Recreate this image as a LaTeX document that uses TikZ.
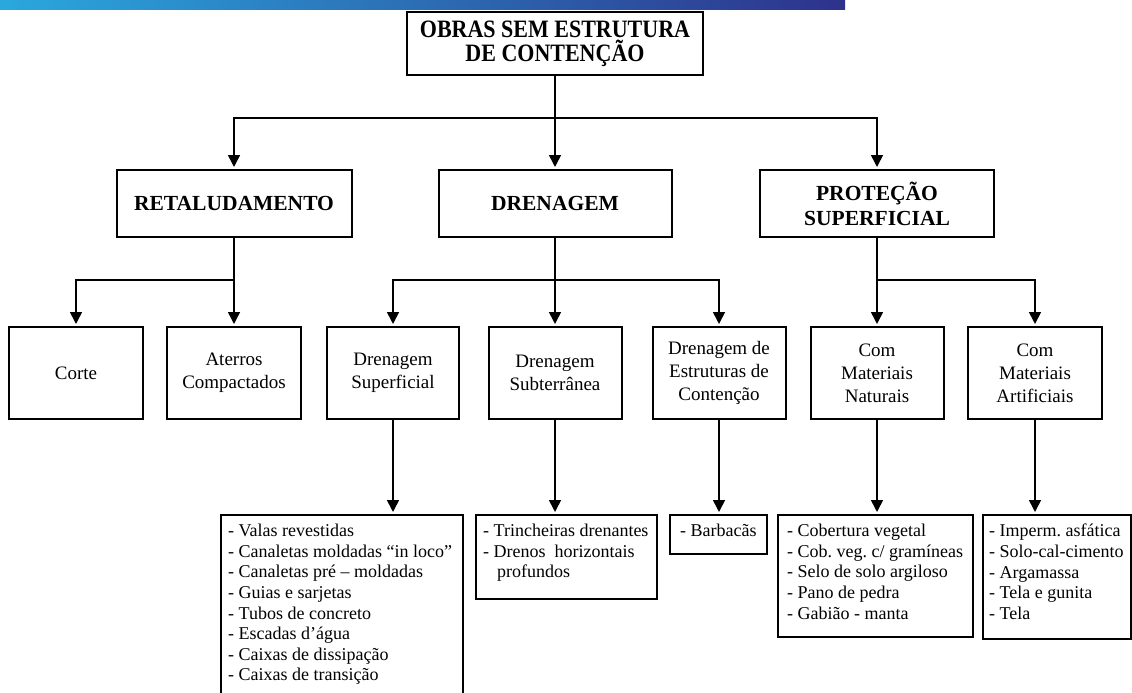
\documentclass[tikz,border=0pt]{standalone}
\usepackage{fontspec}
\setmainfont{Liberation Serif}
\usepackage{graphicx}
\usetikzlibrary{arrows.meta}
\definecolor{barL}{RGB}{42,168,222}
\definecolor{barR}{RGB}{46,50,140}
\newcommand{\cnd}[1]{\scalebox{0.88}[1]{#1}}
\frenchspacing
\begin{document}
\begin{tikzpicture}[x=1pt,y=-1pt,
  box/.style={draw, line width=2pt, fill=white, inner sep=0pt, align=center},
  titlebox/.style={box, font=\bfseries\fontsize{25}{24}\selectfont},
  catbox/.style={box, font=\bfseries\fontsize{21.5}{25}\selectfont, minimum height=67pt},
  subbox/.style={box, font=\fontsize{19}{23}\selectfont, minimum height=92pt},
  listbox/.style={draw, line width=2pt, fill=white, inner sep=0pt},
  listtext/.style={anchor=north west, inner sep=0pt, align=left, font=\fontsize{18}{20.6}\selectfont},
  conn/.style={line width=1.6pt},
  arr/.style={conn, -{Triangle[length=12pt,width=12pt]}, shorten >=2pt}]

\useasboundingbox (0,0) rectangle (1132,693);
\clip (0,0) rectangle (1132,693);
\fill[white] (0,0) rectangle (1132,693);
\shade[left color=barL, right color=barR] (0,0) rectangle (845,9.5);

% top
\node[titlebox, minimum width=296pt, minimum height=63pt] (top) at (555,43.5) {\cnd{OBRAS SEM ESTRUTURA}\\\cnd{DE CONTENÇÃO}};

% level 1
\node[catbox, minimum width=235pt] (ret) at (234,203.5) {RETALUDAMENTO};
\node[catbox, minimum width=233pt] (dre) at (555,203.5) {DRENAGEM};
\node[catbox, minimum width=234pt] (pro) at (877,203.5) {PROTEÇÃO\\SUPERFICIAL};

% level 2
\node[subbox, minimum width=134pt] (corte) at (76,373) {Corte};
\node[subbox, minimum width=134pt] (ater) at (234,373) {Aterros\\Compactados};
\node[subbox, minimum width=132pt] (dsup) at (393,373) {Drenagem\\Superficial};
\node[subbox, minimum width=133pt] (dsub) at (555,373) {Drenagem\\Subterrânea};
\node[subbox, minimum width=133pt] (dest) at (719,373) {Drenagem de\\Estruturas de\\Contenção};
\node[subbox, minimum width=133pt] (cnat) at (877,373) {Com\\Materiais\\Naturais};
\node[subbox, minimum width=134pt] (cart) at (1035,373) {Com\\Materiais\\Artificiais};

% level 3
\node[listbox, minimum width=242pt, minimum height=190pt] (lsup) at (342,610) {};
\node[listbox, minimum width=181pt, minimum height=84pt] (lsub) at (566.5,557) {};
\node[listbox, minimum width=97pt, minimum height=39pt] (lbar) at (718.5,534.5) {};
\node[listbox, minimum width=195pt, minimum height=122pt] (lnat) at (875.5,576) {};
\node[listbox, minimum width=148pt, minimum height=124pt] (lart) at (1056.5,577) {};

\node[listtext] (tsup) at (228,524) {- Valas revestidas\\- Canaletas moldadas “in loco”\\- Canaletas pré – moldadas\\- Guias e sarjetas\\- Tubos de concreto\\- Escadas d’água\\- Caixas de dissipação\\- Caixas de transição};
\node[listtext] (tsub) at (483,524) {- Trincheiras drenantes\\- Drenos\ \ horizontais\\\hspace*{14pt}profundos};
\node[listtext] (tbar) at (680,524) {- Barbacãs};
\node[listtext] (tnat) at (787,524) {- Cobertura vegetal\\- Cob. veg. c/ gramíneas\\- Selo de solo argiloso\\- Pano de pedra\\- Gabião - manta};
\node[listtext] (tart) at (989,524) {- Imperm. asfática\\- Solo-cal-cimento\\- Argamassa\\- Tela e gunita\\- Tela};

% connectors
\coordinate (jt) at (top.south |- 0,118);
\draw[conn] (top.south) -- (jt);
\draw[arr] (jt) -| (ret.north);
\draw[arr] (jt) -- (jt |- dre.north);
\draw[arr] (jt) -| (pro.north);

\coordinate (jr) at (ret.south |- 0,280);
\draw[conn] (ret.south) -- (jr);
\draw[arr] (jr) -| (corte.north);
\draw[arr] (jr) -- (jr |- ater.north);

\coordinate (jd) at (dre.south |- 0,280);
\draw[conn] (dre.south) -- (jd);
\draw[arr] (jd) -| (dsup.north);
\draw[arr] (jd) -- (jd |- dsub.north);
\draw[arr] (jd) -| (dest.north);

\coordinate (jp) at (pro.south |- 0,280);
\draw[conn] (pro.south) -- (jp);
\draw[arr] (jp) -- (jp |- cnat.north);
\draw[arr] (jp) -| (cart.north);

\draw[arr] (dsup.south) -- (dsup.south |- lsup.north);
\draw[arr] (dsub.south) -- (dsub.south |- lsub.north);
\draw[arr] (dest.south) -- (dest.south |- lbar.north);
\draw[arr] (cnat.south) -- (cnat.south |- lnat.north);
\draw[arr] (cart.south) -- (cart.south |- lart.north);
\end{tikzpicture}
\end{document}
